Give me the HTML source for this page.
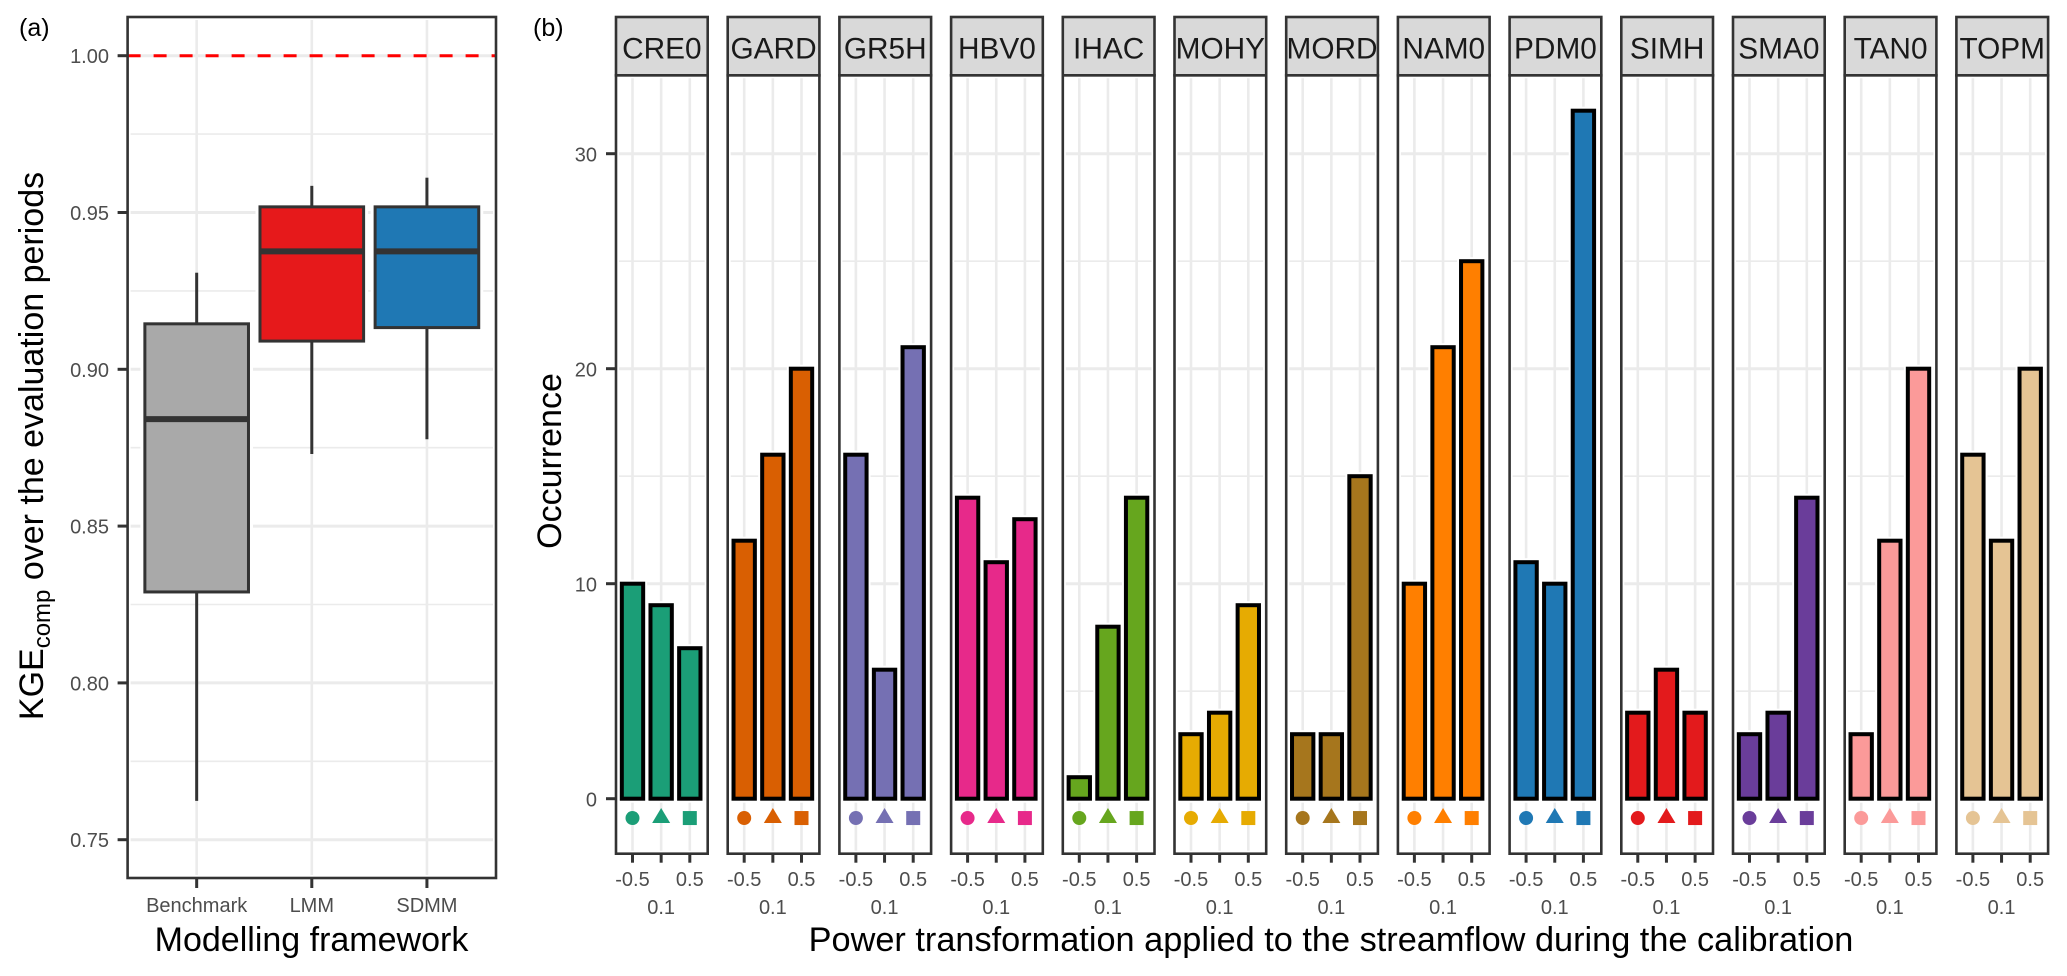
<!DOCTYPE html>
<html>
<head>
<meta charset="utf-8">
<title>KGE comparison and power transformation occurrence</title>
<style>
html,body{margin:0;padding:0;background:#fff;}
svg{display:block;}
text{font-family:"Liberation Sans",Arial,sans-serif;}
</style>
</head>
<body>
<svg id="chart" xmlns="http://www.w3.org/2000/svg" width="2067" height="976" viewBox="0 0 2067 976"></svg>
<script>
var frameworks = ['Benchmark', 'LMM', 'SDMM'];
var boxWhiskerLow = [0.7624, 0.873, 0.8777];
var boxQ1 = [0.829, 0.909, 0.9133];
var boxMedian = [0.8841, 0.9376, 0.9376];
var boxQ3 = [0.9145, 0.9518, 0.9518];
var boxWhiskerHigh = [0.9308, 0.9585, 0.9611];
var boxColors = ['#a9a9a9', '#e6191b', '#1f78b4'];
var kgeTicks = [0.75, 0.80, 0.85, 0.90, 0.95, 1.00];
var kgeMinorTicks = [0.775, 0.825, 0.875, 0.925, 0.975];
var kgeReference = 1.0;

var models = ['CRE0', 'GARD', 'GR5H', 'HBV0', 'IHAC', 'MOHY', 'MORD', 'NAM0', 'PDM0', 'SIMH', 'SMA0', 'TAN0', 'TOPM'];
var occurrenceMinus05 = [10, 12, 16, 14, 1, 3, 3, 10, 11, 4, 3, 3, 16];
var occurrence01 = [9, 16, 6, 11, 8, 4, 3, 21, 10, 6, 4, 12, 12];
var occurrence05 = [7, 20, 21, 13, 14, 9, 15, 25, 32, 4, 14, 20, 20];
var modelColors = ['#1b9e77', '#d95f02', '#7570b3', '#e7298a', '#66a61e', '#e6ab02', '#a6761d', '#ff7f00', '#1f78b4', '#e31a1c', '#6a3d9a', '#fb9a99', '#e5c494'];
var powerLabels = ['-0.5', '0.1', '0.5'];
var occurrenceTicks = [0, 10, 20, 30];
var occurrenceMinorTicks = [5, 15, 25];
var markerLevel = -0.9;

var svg = document.getElementById('chart');
var NS = 'http://www.w3.org/2000/svg';
function mk(tag, attrs, parent) {
  var el = document.createElementNS(NS, tag);
  for (var k in attrs) { el.setAttribute(k, attrs[k]); }
  (parent || svg).appendChild(el);
  return el;
}
function label(str, x, y, size, anchor, fill, parent) {
  var t = mk('text', {x: x, y: y, 'font-size': size, 'text-anchor': anchor, fill: fill}, parent);
  t.textContent = str;
  return t;
}

/* ---------- panel (a) ---------- */
var aLeft = 127.6, aRight = 496, aTop = 17, aBottom = 878;
function ya(v) { return 55.7 + (1 - v) * 3136; }
function xa(i) { return aLeft + (i + 0.6) * (aRight - aLeft) / 3.2; }
var aBand = (aRight - aLeft) / 3.2;

var panelA = mk('g', {});



var tagA = label('(a)', 19, 36, 25, 'start', '#000', panelA);



kgeMinorTicks.forEach(function (v) {
  var g = mk('line', {x1: aLeft + 3, x2: aRight - 3, y1: ya(v), y2: ya(v), stroke: '#ebebeb', 'stroke-width': 1.6}, panelA);
  
  
});
kgeTicks.forEach(function (v) {
  var g = mk('line', {x1: aLeft + 3, x2: aRight - 3, y1: ya(v), y2: ya(v), stroke: '#ebebeb', 'stroke-width': 3}, panelA);
  
  
  var tk = mk('line', {x1: aLeft - 10, x2: aLeft, y1: ya(v), y2: ya(v), stroke: '#333', 'stroke-width': 3}, panelA);
  
  
  var tl = label(v.toFixed(2), 109, ya(v) + 7.5, 20, 'end', '#4d4d4d', panelA);
  
  
});
frameworks.forEach(function (name, i) {
  var g = mk('line', {x1: xa(i), x2: xa(i), y1: aTop + 3, y2: aBottom - 3, stroke: '#ebebeb', 'stroke-width': 2.6}, panelA);
  
  
});

var refLine = mk('line', {x1: aLeft, x2: aRight, y1: ya(kgeReference), y2: ya(kgeReference), stroke: '#ff0000', 'stroke-width': 3, 'stroke-dasharray': '13 13'}, panelA);



frameworks.forEach(function (name, i) {
  var w = aBand * 0.9, cx = xa(i);
  var halo = mk('rect', {x: cx - w / 2, y: ya(boxQ3[i]), width: w, height: ya(boxQ1[i]) - ya(boxQ3[i]), fill: 'none', stroke: '#fff', 'stroke-width': 9}, panelA);
  
  
  var wh = mk('line', {x1: cx, x2: cx, y1: ya(boxWhiskerHigh[i]), y2: ya(boxQ3[i]), stroke: '#333', 'stroke-width': 3}, panelA);
  
  
  var wl = mk('line', {x1: cx, x2: cx, y1: ya(boxQ1[i]), y2: ya(boxWhiskerLow[i]), stroke: '#333', 'stroke-width': 3}, panelA);
  
  
  var b = mk('rect', {x: cx - w / 2, y: ya(boxQ3[i]), width: w, height: ya(boxQ1[i]) - ya(boxQ3[i]), fill: boxColors[i], stroke: '#333', 'stroke-width': 3}, panelA);
  
  
  var m = mk('line', {x1: cx - w / 2, x2: cx + w / 2, y1: ya(boxMedian[i]), y2: ya(boxMedian[i]), stroke: '#333', 'stroke-width': 6}, panelA);
  
  
  var tk = mk('line', {x1: cx, x2: cx, y1: aBottom, y2: aBottom + 10, stroke: '#333', 'stroke-width': 3}, panelA);
  
  
  var tl = label(name, cx, 912, 20, 'middle', '#4d4d4d', panelA);
  
  
});

var borderA = mk('rect', {x: aLeft, y: aTop, width: aRight - aLeft, height: aBottom - aTop, fill: 'none', stroke: '#333', 'stroke-width': 2.6}, panelA);



var xTitleA = label('Modelling framework', 311.5, 951, 34, 'middle', '#000', panelA);



var yTitleA = mk('text', {transform: 'translate(43,446) rotate(-90)', 'text-anchor': 'middle', 'font-size': 34, fill: '#000'}, panelA);


var s1 = mk('tspan', {}, yTitleA);
s1.textContent = 'KGE';
var s2 = mk('tspan', {dy: 7, 'font-size': 24}, yTitleA);
s2.textContent = 'comp';
var s3 = mk('tspan', {dy: -7}, yTitleA);
s3.textContent = ' over the evaluation periods';

/* ---------- panel (b) ---------- */
var bLeft0 = 616, bPitch = 111.7, bWidth = 91.7, bStripTop = 17, bTop = 75.3, bBottom = 853.7;
function yb(v) { return 798.7 - v * 21.5; }
function xb(p, i) { return bLeft0 + p * bPitch + (i + 0.6) * bWidth / 3.2 - 0.7; }
var bBand = bWidth / 3.2;

var panelB = mk('g', {});



var tagB = label('(b)', 533, 36, 25, 'start', '#000', panelB);



occurrenceTicks.forEach(function (v) {
  var tk = mk('line', {x1: bLeft0 - 10, x2: bLeft0, y1: yb(v), y2: yb(v), stroke: '#333', 'stroke-width': 3}, panelB);
  
  
  var tl = label(String(v), 597, yb(v) + 8, 20, 'end', '#4d4d4d', panelB);
  
  
});

models.forEach(function (model, p) {
  var left = bLeft0 + p * bPitch;
  var facet = mk('g', {}, panelB);
  
  

  occurrenceMinorTicks.forEach(function (v) {
    var g = mk('line', {x1: left + 3, x2: left + bWidth - 3, y1: yb(v), y2: yb(v), stroke: '#ebebeb', 'stroke-width': 1.6}, facet);
    
    
  });
  occurrenceTicks.forEach(function (v) {
    var g = mk('line', {x1: left + 3, x2: left + bWidth - 3, y1: yb(v), y2: yb(v), stroke: '#ebebeb', 'stroke-width': 3}, facet);
    
    
  });
  powerLabels.forEach(function (lab, i) {
    var g = mk('line', {x1: xb(p, i), x2: xb(p, i), y1: bTop + 3, y2: bBottom - 3, stroke: '#ebebeb', 'stroke-width': 2.6}, facet);
    
    
  });

  var values = [occurrenceMinus05[p], occurrence01[p], occurrence05[p]];
  var color = modelColors[p];
  values.forEach(function (val, i) {
    var cx = xb(p, i), w = bBand * 0.745;
    var halo = mk('rect', {x: cx - w / 2, y: yb(val), width: w, height: yb(0) - yb(val), fill: 'none', stroke: '#fff', 'stroke-width': 8}, facet);
    
    
    var bar = mk('rect', {x: cx - w / 2, y: yb(val), width: w, height: yb(0) - yb(val), fill: color, stroke: '#000', 'stroke-width': 4}, facet);
    
    

    var my = yb(markerLevel), mark;
    if (i === 0) {
      mark = mk('circle', {cx: cx, cy: my, r: 7, fill: color}, facet);
    } else if (i === 1) {
      mark = mk('polygon', {points: (cx - 9) + ',' + (my + 5) + ' ' + (cx + 9) + ',' + (my + 5) + ' ' + cx + ',' + (my - 10), fill: color}, facet);
    } else {
      mark = mk('rect', {x: cx - 7, y: my - 7, width: 14, height: 14, fill: color}, facet);
    }
    
    

    var tk = mk('line', {x1: cx, x2: cx, y1: bBottom, y2: bBottom + 9, stroke: '#333', 'stroke-width': 3}, facet);
    
    
    var tl = label(powerLabels[i], cx, i === 1 ? 914 : 886, 20, 'middle', '#4d4d4d', facet);
    
    
  });

  var border = mk('rect', {x: left, y: bTop, width: bWidth, height: bBottom - bTop, fill: 'none', stroke: '#333', 'stroke-width': 2.6}, facet);
  
  

  var strip = mk('rect', {x: left, y: bStripTop, width: bWidth, height: bTop - bStripTop, fill: '#d9d9d9', stroke: '#333', 'stroke-width': 2.6}, facet);
  
  
  var stripText = label(model, left + bWidth / 2, 58.3, 29.8, 'middle', '#1a1a1a', facet);
  
  
});

var xTitleB = label('Power transformation applied to the streamflow during the calibration', 1331, 951, 34.3, 'middle', '#000', panelB);



var yTitleB = mk('text', {transform: 'translate(561,461) rotate(-90)', 'text-anchor': 'middle', 'font-size': 34, fill: '#000'}, panelB);


yTitleB.textContent = 'Occurrence';
</script>
</body>
</html>
